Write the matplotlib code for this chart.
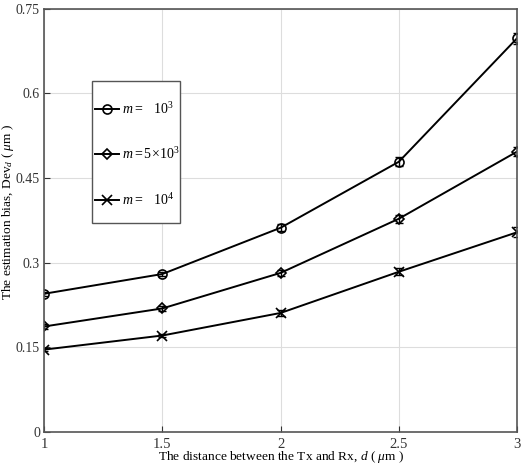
import numpy as np
import matplotlib.pyplot as plt
from matplotlib.patches import Rectangle

plt.rcParams['font.family'] = ['Liberation Serif', 'DejaVu Serif']
plt.rcParams['mathtext.fontset'] = 'custom'
plt.rcParams['mathtext.rm'] = 'Liberation Serif'
plt.rcParams['mathtext.it'] = 'Liberation Serif:italic'

# data
d = [1, 1.5, 2, 2.5, 3]
bias_1e3 = [0.245, 0.280, 0.362, 0.479, 0.698]
bias_5e3 = [0.187, 0.219, 0.282, 0.378, 0.497]
bias_1e4 = [0.146, 0.171, 0.211, 0.284, 0.354]
err_1e3 = [0.004, 0.004, 0.006, 0.008, 0.010]
err_5e3 = [0.004, 0.004, 0.006, 0.007, 0.008]
err_1e4 = [0.003, 0.003, 0.005, 0.006, 0.009]
labels = [r'$m=\ \ \ 10^3$', r'$m=5\!\times\!10^3$', r'$m=\ \ \ 10^4$']
markers = ['o', 'D', 'x']

fig = plt.figure(figsize=(5.32, 4.66), dpi=100)
ax = fig.add_axes([0.083, 0.073, 0.889, 0.908])

for y, e, lab, mk in zip([bias_1e3, bias_5e3, bias_1e4], [err_1e3, err_5e3, err_1e4], labels, markers):
    ms = 5 if mk == 'D' else 6.5
    ax.errorbar(d, y, yerr=e, fmt='none', ecolor='black', capsize=3, elinewidth=1.0)
    ax.plot(d, y, color='black', lw=1.4, marker=mk, ms=ms,
            mfc='none', mec='black', mew=1.2, label=lab)

ax.set_xlim(1, 3)
ax.set_ylim(0, 0.75)
ax.set_xticks(d)
ax.set_xticklabels(['1', '1.5', '2', '2.5', '3'])
ax.set_yticks([0, 0.15, 0.3, 0.45, 0.6, 0.75])
ax.set_yticklabels(['0', '0.15', '0.3', '0.45', '0.6', '0.75'])
ax.grid(True, color='#dddddd', lw=0.8)
ax.set_axisbelow(True)
ax.tick_params(direction='in', labelsize=10.5, colors='#333333', length=4)
ax.tick_params(axis='x', pad=4)
ax.tick_params(axis='y', labelsize=10, pad=3)
for s in ax.spines.values():
    s.set_color('#555555')
    s.set_linewidth(1.2)

ax.set_xlabel(r'The distance between the Tx and Rx, $d$ ( $\mu$m )', fontsize=9.6)
ax.set_ylabel(r'The estimation bias, Dev$_d$ ( $\mu$m )', fontsize=9.6)
ax.xaxis.set_label_coords(0.5, -0.041)
ax.yaxis.set_label_coords(-0.0585, 0.52)

# legend box like the matlab one: small side padding, tall
box = Rectangle((0.1015, 0.494), 0.186, 0.336, transform=ax.transAxes,
                facecolor='white', edgecolor='#555555', lw=1.0, zorder=4)
ax.add_patch(box)
leg = ax.legend(loc='upper left', bbox_to_anchor=(0.108, 0.783), fontsize=10,
                frameon=False, labelspacing=2.15, borderpad=0, handlelength=1.7,
                handletextpad=0.2, borderaxespad=0)
leg.set_zorder(5)

fig.savefig('out.png', dpi=100)
